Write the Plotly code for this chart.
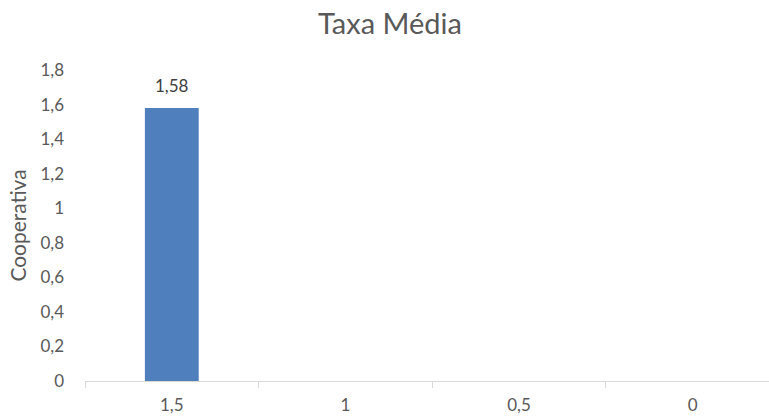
import plotly.graph_objects as go

# Average rate per category
categories = ["1,5", "1", "0,5", "0"]
values = [1.58, None, None, None]
y_ticks = [0, 0.2, 0.4, 0.6, 0.8, 1.0, 1.2, 1.4, 1.6, 1.8]
y_tick_labels = ["0", "0,2", "0,4", "0,6", "0,8", "1", "1,2", "1,4", "1,6", "1,8"]

font_family = "Lato, 'Open Sans', sans-serif"
grey = "#595959"

fig = go.Figure(
    go.Bar(
        x=categories,
        y=values,
        width=0.31,
        marker=dict(color="#4F7FBD", line=dict(width=0)),
        hoverinfo="x+y",
    )
)

# Value labels above the bars
for cat, val in zip(categories, values):
    if val is None:
        continue
    fig.add_annotation(
        x=cat,
        y=val,
        text=f"{val:.2f}".replace(".", ","),
        showarrow=False,
        yanchor="bottom",
        yshift=10,
        font=dict(family=font_family, size=17, color="#404040"),
    )

fig.update_layout(
    width=769,
    height=419,
    separators=",.",
    paper_bgcolor="white",
    plot_bgcolor="white",
    margin=dict(l=85, r=0, t=70, b=38),
    showlegend=False,
    title=dict(
        text="Taxa Média",
        x=390 / 769,
        xanchor="center",
        y=1 - 24 / 419,
        yanchor="middle",
        font=dict(family=font_family, size=29, color=grey),
    ),
    xaxis=dict(
        type="category",
        range=[-0.5, 3.44],
        showline=True,
        linecolor="#d9d9d9",
        linewidth=1,
        ticks="outside",
        tickson="boundaries",
        ticklen=6,
        tickcolor="#d9d9d9",
        showgrid=False,
        ticklabelstandoff=9,
        tickfont=dict(family=font_family, size=17, color=grey),
    ),
    yaxis=dict(
        range=[0, 1.8],
        tickvals=y_ticks,
        ticktext=y_tick_labels,
        showgrid=False,
        zeroline=False,
        showline=False,
        ticks="",
        ticklabelstandoff=20,
        tickfont=dict(family=font_family, size=17, color=grey),
        title=dict(
            text="Cooperativa",
            standoff=8,
            font=dict(family=font_family, size=21, color=grey),
        ),
    ),
)

fig.write_html("out.html")
